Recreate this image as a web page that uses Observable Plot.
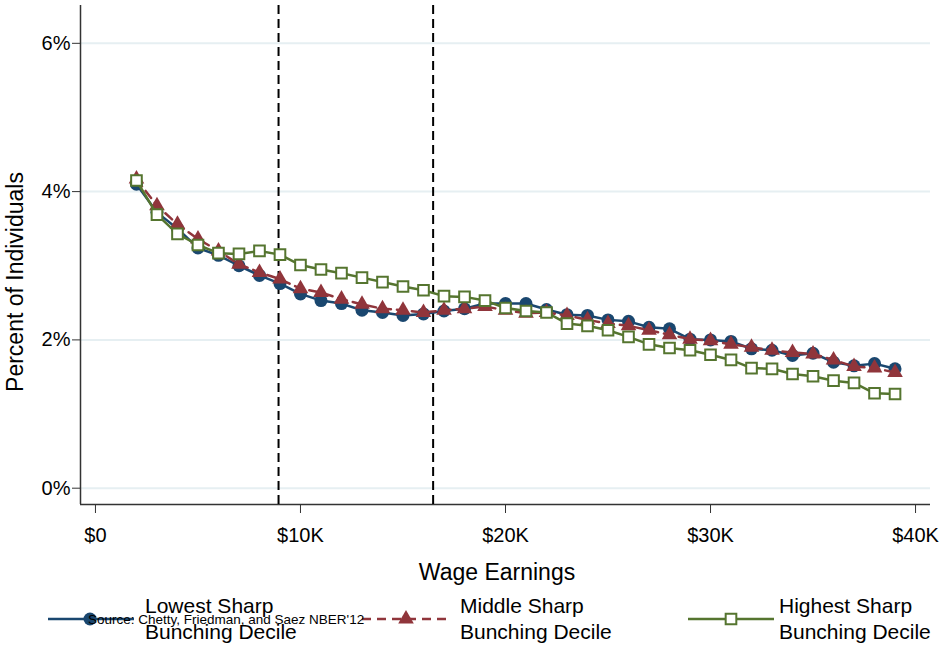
<!DOCTYPE html>
<html><head><meta charset="utf-8">
<script src="https://cdn.jsdelivr.net/npm/d3@7"></script>
<script src="https://cdn.jsdelivr.net/npm/@observablehq/plot@0.6"></script>
<style>body{margin:0;background:#fff;}</style>
</head><body><div id="chart"></div>
<script>
// ---- data (wage earnings in $K, percent of individuals) ----
const wages = [2,3,4,5,6,7,8,9,10,11,12,13,14,15,16,17,18,19,20,21,22,23,24,25,26,27,28,29,30,31,32,33,34,35,36,37,38,39];
const lowest = [4.10,3.72,3.50,3.24,3.14,3.00,2.87,2.76,2.62,2.53,2.49,2.40,2.37,2.33,2.35,2.39,2.42,2.49,2.49,2.49,2.41,2.34,2.33,2.27,2.25,2.17,2.15,2.01,2.00,1.98,1.88,1.86,1.79,1.82,1.70,1.65,1.68,1.61];
const middle = [4.17,3.81,3.56,3.36,3.20,3.02,2.91,2.82,2.69,2.64,2.55,2.48,2.42,2.40,2.37,2.40,2.42,2.45,2.40,2.36,2.37,2.33,2.27,2.22,2.19,2.13,2.07,2.01,1.99,1.94,1.90,1.86,1.83,1.81,1.73,1.64,1.62,1.56];
const highest = [4.15,3.69,3.43,3.28,3.17,3.16,3.20,3.15,3.01,2.95,2.90,2.84,2.78,2.72,2.67,2.59,2.58,2.53,2.43,2.39,2.37,2.22,2.19,2.13,2.04,1.94,1.89,1.86,1.80,1.73,1.62,1.61,1.54,1.51,1.45,1.42,1.28,1.27];
const cutoffs = [8.93, 16.47];
const xTicks = [0,10,20,30,40];
const yTicks = [0,2,4,6];
const seriesLabels = [["Lowest Sharp","Bunching Decile"],["Middle Sharp","Bunching Decile"],["Highest Sharp","Bunching Decile"]];
const xTitle = "Wage Earnings";
const yTitle = "Percent of Individuals";
const sourceNote = "Source: Chetty, Friedman, and Saez NBER'12";

const C_BLUE = "#1a476f", C_RED = "#90353b", C_GREEN = "#55752f";
const FONT = "Liberation Sans, Arial, Helvetica, sans-serif";

const toRows = vals => wages.map((w,i)=>({x:w, y:vals[i]}));
const rLow = toRows(lowest), rMid = toRows(middle), rHigh = toRows(highest);

const xMin = -0.73, xMax = 40.73, yMin = -0.22, yMax = 6.51;

const svg = Plot.plot({
  width: 940, height: 647,
  marginLeft: 80, marginRight: 10, marginTop: 5, marginBottom: 143,
  style: {fontFamily: FONT, background: "#fff", color: "#000"},
  x: {domain: [xMin, xMax]},
  y: {domain: [yMin, yMax]},
  marks: [
    Plot.gridY(yTicks, {stroke: "#e6eff2", strokeOpacity: 1, strokeWidth: 2}),
    Plot.axisY(yTicks, {tickFormat: d => d + "%", tickSize: 8, tickPadding: 2, fontSize: 20, label: null, stroke: "#333"}),
    Plot.axisX(xTicks, {tickFormat: d => d === 0 ? "$0" : "$" + d + "K", tickSize: 9, tickPadding: 14, fontSize: 20, label: null, stroke: "#333"}),
    Plot.ruleX([xMin], {stroke: "#333", strokeWidth: 1.5}),
    Plot.ruleY([yMin], {stroke: "#333", strokeWidth: 1.5}),
    Plot.ruleX(cutoffs, {stroke: "#000", strokeWidth: 2, strokeDasharray: "9,5"}),
    Plot.line(rLow, {x: "x", y: "y", stroke: C_BLUE, strokeWidth: 2.5}),
    Plot.dot(rLow, {x: "x", y: "y", r: 6.5, fill: C_BLUE, stroke: "none"}),
    Plot.line(rMid, {x: "x", y: "y", stroke: C_RED, strokeWidth: 2.5, strokeDasharray: "9,6"}),
    Plot.dot(rMid, {x: "x", y: "y", r: 5.8, symbol: "triangle", fill: C_RED, stroke: "none"}),
    Plot.line(rHigh, {x: "x", y: "y", stroke: C_GREEN, strokeWidth: 2.5}),
    Plot.dot(rHigh, {x: "x", y: "y", r: 6, symbol: "square", fill: "#fff", stroke: C_GREEN, strokeWidth: 2})
  ]
});

const s = d3.select(svg);
// axis titles
s.append("text").attr("x", 497).attr("y", 580).attr("text-anchor", "middle")
  .attr("font-family", FONT).attr("font-size", 23).attr("fill", "#000").text(xTitle);
s.append("text").attr("transform", "translate(23,282) rotate(-90)").attr("text-anchor", "middle")
  .attr("font-family", FONT).attr("font-size", 23).attr("fill", "#000").text(yTitle);

// legend
const legY = 619;
const leg = [
  {x0: 48, x1: 134, mx: 90, tx: 145, color: C_BLUE, dash: null, sym: d3.symbolCircle, size: Math.PI*6.5*6.5, fill: C_BLUE, stroke: "none"},
  {x0: 362, x1: 451, mx: 406, tx: 460, color: C_RED, dash: "9,6", sym: d3.symbolTriangle, size: Math.PI*5.8*5.8, fill: C_RED, stroke: "none"},
  {x0: 688, x1: 774, mx: 731, tx: 779, color: C_GREEN, dash: null, sym: d3.symbolSquare, size: Math.PI*6*6, fill: "#fff", stroke: C_GREEN}
];
leg.forEach((l, i) => {
  const g = s.append("g");
  const ln = g.append("line").attr("x1", l.x0).attr("x2", l.x1).attr("y1", legY).attr("y2", legY)
    .attr("stroke", l.color).attr("stroke-width", 2.5);
  if (l.dash) ln.attr("stroke-dasharray", l.dash);
  g.append("path").attr("d", d3.symbol(l.sym, l.size)()).attr("transform", `translate(${l.mx},${legY})`)
    .attr("fill", l.fill).attr("stroke", l.stroke).attr("stroke-width", 2);
  const t = g.append("text").attr("font-family", FONT).attr("font-size", 21).attr("fill", "#000")
    .attr("text-anchor", "start");
  t.append("tspan").attr("x", l.tx).attr("y", 613).text(seriesLabels[i][0]);
  t.append("tspan").attr("x", l.tx).attr("y", 639).text(seriesLabels[i][1]);
});
// source note (overlaps legend as in original)
s.append("text").attr("x", 88).attr("y", 624).attr("text-anchor", "start").attr("font-family", FONT).attr("font-size", 13.5)
  .attr("fill", "#000").text(sourceNote);

document.getElementById("chart").appendChild(svg);
</script>
</body></html>
